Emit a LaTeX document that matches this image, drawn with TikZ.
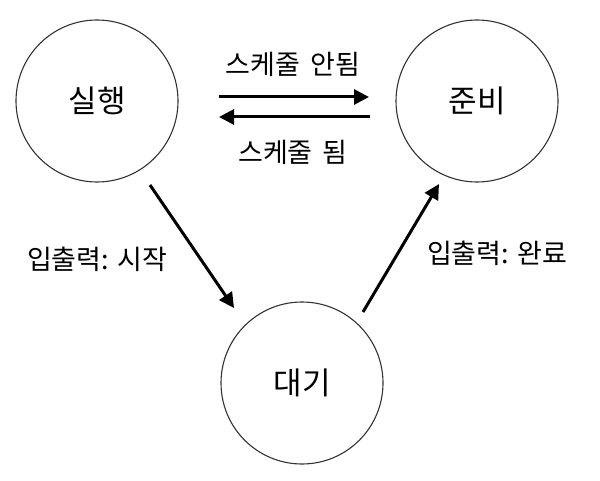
\documentclass[tikz,border=0pt]{standalone}
\usepackage{fontspec}
\newfontfamily\kr{Noto Sans CJK KR}
\usetikzlibrary{arrows.meta}
\begin{document}
\begin{tikzpicture}[x=1bp,y=-1bp,
  state/.style={circle,draw=black!80,line width=1.1bp,minimum size=162bp,inner sep=0pt,font=\kr\fontsize{31bp}{33bp}\selectfont},
  lbl/.style={font=\kr\fontsize{27bp}{29bp}\selectfont,inner sep=0pt},
  conn/.style={line width=3bp,-{Triangle[length=15bp,width=15bp]}}]
\useasboundingbox (0,0) rectangle (600,481);
\node[state] (run) at (97,101) {실행};
\node[state] (ready) at (477,101) {준비};
\node[state] (wait) at (302,383) {대기};
\coordinate (a1) at (219,97);
\coordinate (a2) at (369,97);
\coordinate (b1) at (370,117);
\coordinate (b2) at (219,117);
\coordinate (c1) at (150,185);
\coordinate (c2) at (234,308);
\coordinate (d1) at (363,312);
\coordinate (d2) at (439,184);
\draw[conn] (a1) -- (a2);
\draw[conn] (b1) -- (b2);
\draw[conn] (c1) -- (c2);
\draw[conn] (d1) -- (d2);
\node[lbl] (t1) at (293,64) {스케줄\hspace{0.15em} 안됨};
\node[lbl] (t2) at (293,152) {스케줄\hspace{0.15em} 됨};
\node[lbl] (t3) at (97,259) {입출력: 시작};
\node[lbl] (t4) at (497,253) {입출력: 완료};
\end{tikzpicture}
\end{document}
